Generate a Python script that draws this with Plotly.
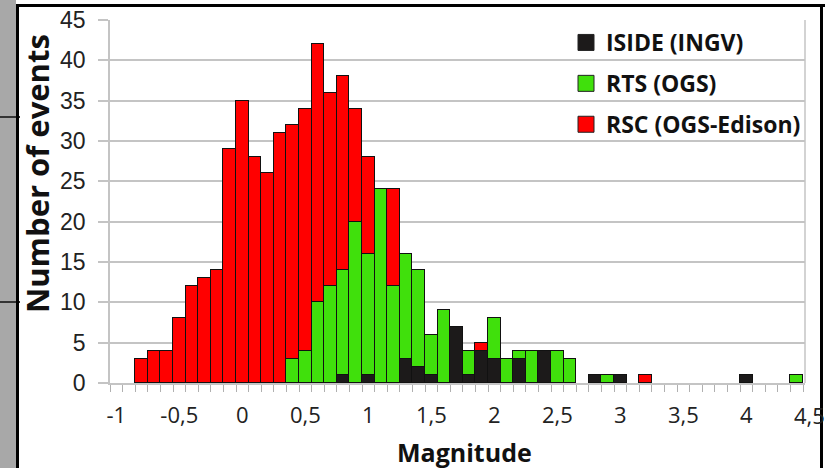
import plotly.graph_objects as go

# ---- data (bins of 0.1 magnitude, from -1.0 to 4.5) ----
magnitude_bins = [round(-1.0 + 0.1 * i, 1) for i in range(56)]

iside_ingv = [0, 0, 0, 0, 0, 0, 0, 0, 0, 0,
              0, 0, 0, 0, 0, 0, 0, 0, 1, 0,
              1, 0, 0, 3, 2, 1, 0, 7, 1, 4,
              3, 0, 3, 0, 4, 0, 0, 0, 1, 0,
              1, 0, 0, 0, 0, 0, 0, 0, 0, 0,
              1, 0, 0, 0, 0, 0]
rts_ogs = [0, 0, 0, 0, 0, 0, 0, 0, 0, 0,
           0, 0, 0, 0, 3, 4, 10, 12, 13, 20,
           15, 24, 12, 13, 12, 5, 9, 0, 3, 0,
           5, 3, 1, 4, 0, 4, 3, 0, 0, 1,
           0, 0, 0, 0, 0, 0, 0, 0, 0, 0,
           0, 0, 0, 0, 1, 0]
rsc_ogs_edison = [0, 0, 3, 4, 4, 8, 12, 13, 14, 29,
                  35, 28, 26, 31, 29, 30, 32, 24, 24, 14,
                  12, 0, 12, 0, 0, 0, 0, 0, 0, 1,
                  0, 0, 0, 0, 0, 0, 0, 0, 0, 0,
                  0, 0, 1, 0, 0, 0, 0, 0, 0, 0,
                  0, 0, 0, 0, 0, 0]

series_names = ["ISIDE (INGV)", "RTS (OGS)", "RSC (OGS-Edison)"]
series_colors = ["#1c1a1a", "#40e00c", "#ff0000"]

x_tick_vals = [-1, -0.5, 0, 0.5, 1, 1.5, 2, 2.5, 3, 3.5, 4]
x_tick_text = ["-1", "-0,5", "0", "0,5", "1", "1,5", "2", "2,5", "3", "3,5", "4"]
y_tick_vals = [0, 5, 10, 15, 20, 25, 30, 35, 40, 45]

# ---- layout geometry (pixels) ----
W, H = 825, 468
L, R, T, B = 110, 20, 20, 85
PW, PH = W - L - R, H - T - B
BIN_PX = 12.6  # pixels per 0.1 bin


def px(xp):
    return (xp - L) / PW


def py(yp):
    return (H - B - yp) / PH


fig = go.Figure()
for name, vals, col in zip(series_names, [iside_ingv, rts_ogs, rsc_ogs_edison], series_colors):
    fig.add_trace(go.Bar(
        x=magnitude_bins,
        y=[v if v else None for v in vals],
        name=name,
        marker=dict(color=col, line=dict(color="#111111", width=1.2)),
        width=0.1,
        showlegend=False,
    ))

# legend proxies (larger square swatches)
for name, col in zip(series_names, series_colors):
    fig.add_trace(go.Scatter(
        x=[None], y=[None], mode="markers", name=name,
        marker=dict(symbol="square", size=16, color=col,
                    line=dict(color="#222222", width=1)),
        legendgroup=name,
    ))

grid = "#c4c4c4"
fig.update_layout(
    width=W, height=H,
    margin=dict(l=L, r=R, t=T, b=B, autoexpand=False),
    paper_bgcolor="white", plot_bgcolor="white",
    barmode="stack", bargap=0,
    showlegend=True,
    legend=dict(
        x=px(566), y=py(21), xanchor="left", yanchor="top",
        bgcolor="rgba(0,0,0,0)",
        font=dict(family="Open Sans", size=23, color="#111111", weight=700),
        tracegroupgap=8,
        itemsizing="trace",
    ),
    xaxis=dict(
        range=[-1.05, -1.05 + 0.1 * PW / BIN_PX],
        tickmode="array", tickvals=x_tick_vals, ticktext=x_tick_text,
        ticks="", showgrid=False, zeroline=False,
        showline=True, linecolor=grid, linewidth=1.5,
        tickfont=dict(family="Open Sans", size=22, color="#222222"),
        ticklabelstandoff=12,
        minor=dict(tickvals=[round(-1.05 + 0.1 * k, 2) for k in range(57)],
                   ticks="outside", ticklen=7, tickwidth=1.2, tickcolor="#b0b0b0",
                   showgrid=False),
    ),
    yaxis=dict(
        range=[0, 45], tickmode="array", tickvals=y_tick_vals,
        showgrid=True, gridcolor=grid, gridwidth=1.5,
        zeroline=False, showline=True, linecolor=grid, linewidth=1.5,
        ticks="outside", ticklen=10, tickcolor=grid, tickwidth=1.5,
        tickfont=dict(family="Liberation Sans", size=23, color="#222222"),
        ticklabelstandoff=8,
    ),
)

# right plot border (light grey)
fig.add_shape(type="line", xref="paper", yref="paper", x0=1, x1=1, y0=0, y1=1,
              line=dict(color=grid, width=1.5), layer="below")

# axis titles
fig.add_annotation(text="Number of events", xref="paper", yref="paper",
                   x=px(37), y=py(174), textangle=-90, showarrow=False,
                   xanchor="center", yanchor="middle",
                   font=dict(family="Open Sans", size=31, color="#111111", weight=700))
fig.add_annotation(text="Magnitude", xref="paper", yref="paper",
                   x=px(464), y=py(452), showarrow=False,
                   xanchor="center", yanchor="middle",
                   font=dict(family="Open Sans", size=25, color="#111111", weight=700))
# last tick label, beyond plotted range
fig.add_annotation(text="4,5", xref="paper", yref="paper",
                   x=px(809), y=py(415), showarrow=False,
                   xanchor="center", yanchor="middle",
                   font=dict(family="Open Sans", size=22, color="#222222"))


def frame_rect(x0, x1, y0, y1, color):
    fig.add_shape(type="rect", xref="paper", yref="paper",
                  x0=px(x0), x1=px(x1), y0=py(y1), y1=py(y0),
                  fillcolor=color, line=dict(width=0), layer="above")


# screenshot frame
frame_rect(0, 16, 0, 468, "#a8a8a8")
frame_rect(0, 20, 116, 118, "#333333")
frame_rect(0, 20, 301, 303, "#333333")
frame_rect(16, 19, 4, 468, "#000000")
frame_rect(16, 825, 4, 7, "#000000")
frame_rect(820, 823, 4, 468, "#000000")

fig.write_html("out.html",
               config={"displayModeBar": False},
               post_script="document.body.style.margin='0';"
                           "document.body.style.overflow='hidden';")
